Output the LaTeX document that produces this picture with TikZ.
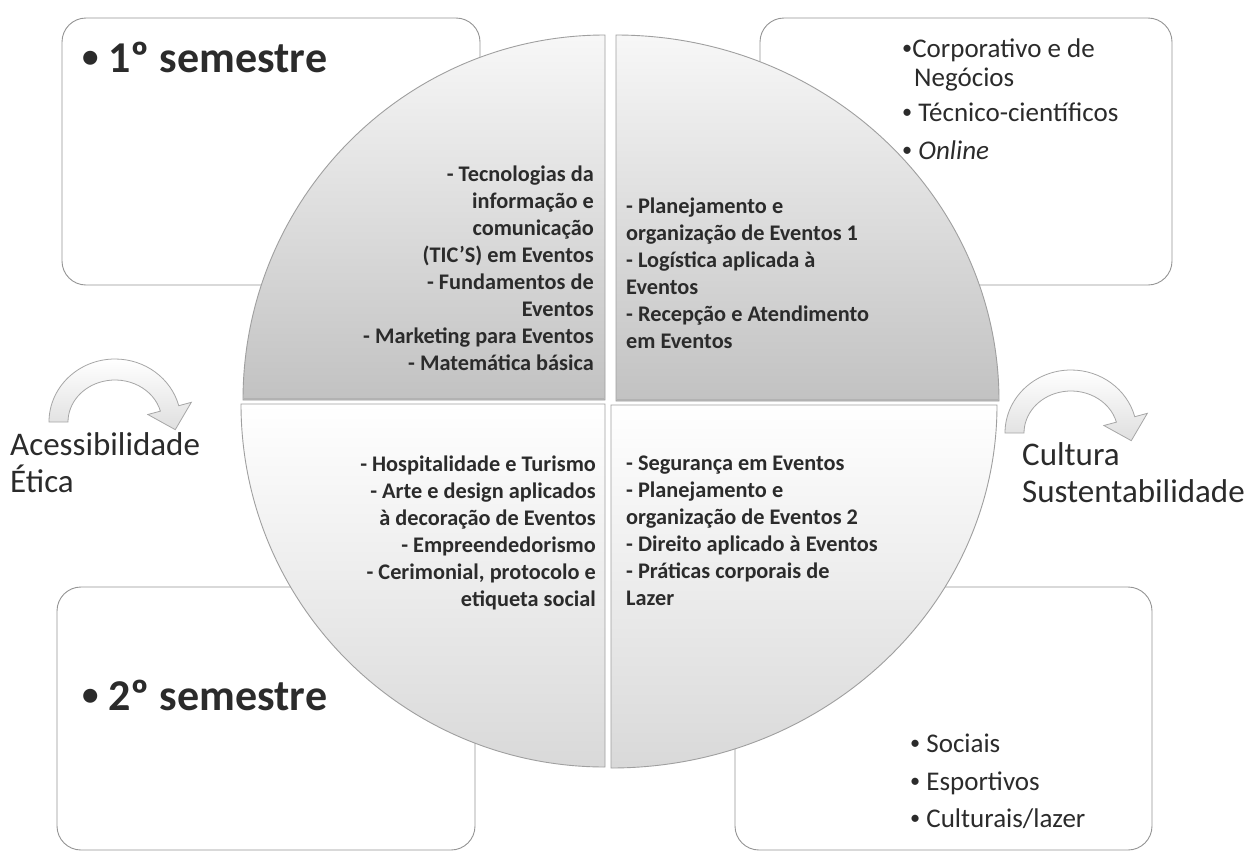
\documentclass[tikz,border=0pt]{standalone}
\usepackage{fontspec}
\setmainfont{Carlito}
\usetikzlibrary{calc}

\definecolor{boxline}{HTML}{959595}
\definecolor{inkgray}{HTML}{2B2B2B}

\tikzset{
	semibox/.style={draw=boxline, line width=0.9pt, fill=white, rounded corners=24pt},
	quarter/.style={draw=gray!75, line width=0.9pt},
	upquarter/.style={quarter, top color=gray!6, bottom color=gray!48},
	lowquarter/.style={quarter, top color=white, bottom color=gray!30},
	bendshape/.style={draw=gray!70, line width=0.8pt, top color=white, bottom color=gray!25},
	subjects/.style={font=\fontsize{22.3}{26.9}\selectfont\bfseries, text=inkgray, inner sep=0pt},
	values/.style={font=\fontsize{33}{37}\selectfont, text=inkgray, inner sep=0pt},
	kinds/.style={font=\fontsize{27}{30}\selectfont, text=inkgray, inner sep=0pt},
	semtitle/.style={font=\fontsize{44}{50}\selectfont\bfseries, text=inkgray, inner sep=0pt}
}

% small list bullet
\def\dotmark{\raisebox{0.1em}{\scalebox{0.75}{\textbullet}}}
% curved block arrow round the centre (#1,#2)
\def\bendarrow(#1,#2){\draw[bendshape] ($(#1,#2)+(180:66 and 63)$) arc[start angle=180, end angle=345, x radius=66, y radius=63] -- ($(#1,#2)+(345:79 and 76)$) -- ($(#1,#2)+(345:56.5 and 52.5)+(75:22)$) -- ($(#1,#2)+(345:34 and 29)$) -- ($(#1,#2)+(345:47 and 42)$) arc[start angle=345, end angle=180, x radius=47, y radius=42] -- cycle;}

\begin{document}
\begin{tikzpicture}[x=1pt, y=-1pt]
	%%%%% FRAME %%%%%
	\useasboundingbox (0,0) rectangle (1247,852);
	\fill[white] (0,0) rectangle (1247,852);
	
	%%%%% BOXES %%%%%
	\draw[semibox] (62,18) rectangle (480,285);
	\draw[semibox] (760,18) rectangle (1172,285);
	\draw[semibox] (57,587) rectangle (475,850);
	\draw[semibox] (735,587) rectangle (1152,850);
	
	%%%%% CIRCLE %%%%%
	\draw[upquarter] (605,400) -- ++(-362,0) arc[start angle=180, end angle=270, x radius=362, y radius=365] -- cycle;
	\draw[upquarter] (616,401) -- ++(0,-366) arc[start angle=270, end angle=360, x radius=383, y radius=366] -- cycle;
	\draw[lowquarter] (605,404) -- ++(-364,0) arc[start angle=180, end angle=90, x radius=364, y radius=363] -- cycle;
	\draw[lowquarter] (611,405) -- ++(386,0) arc[start angle=0, end angle=90, x radius=386, y radius=363] -- cycle;
	\draw[gray!60, line width=1.5pt] (244,399) -- (604,399);
	\draw[gray!60, line width=1.5pt] (617,400) -- (998,400);
	
	%%%%% ARROWS %%%%%
	\bendarrow(115,422)
	\bendarrow(1071,433)
	
	%%%%% TEXTS %%%%%
	\node[semtitle, anchor=base west] (first) at (82,72) {\dotmark\ 1º semestre};
	\node[semtitle, anchor=base west] (second) at (82,710) {\dotmark\ 2º semestre};
	
	\node[subjects, anchor=north east, align=right] (subjTL) at (594,166) {- Tecnologias da\\informação e\\comunicação\\(TIC’S) em Eventos\\- Fundamentos de\\Eventos\\- Marketing para Eventos\\- Matemática básica};
	\node[subjects, anchor=north west, align=left] (subjTR) at (626,198) {- Planejamento e\\organização de Eventos 1\\- Logística aplicada à\\Eventos\\- Recepção e Atendimento\\em Eventos};
	\node[subjects, anchor=north east, align=right] (subjBL) at (596,456) {- Hospitalidade e Turismo\\- Arte e design aplicados\\à decoração de Eventos\\- Empreendedorismo\\- Cerimonial, protocolo e\\etiqueta social};
	\node[subjects, anchor=north west, align=left] (subjBR) at (626,456) {- Segurança em Eventos\\- Planejamento e\\organização de Eventos 2\\- Direito aplicado à Eventos\\- Práticas corporais de\\Lazer};
	
	\node[values, anchor=base west] (access) at (10,455) {Acessibilidade};
	\node[values, anchor=base west] (ethic) at (10,492) {Ética};
	\node[values, anchor=base west] (culture) at (1022,465) {Cultura};
	\node[values, anchor=base west] (sustain) at (1022,502) {Sustentabilidade};
	
	\node[kinds, anchor=base west] (corp) at (902,57) {\dotmark Corporativo e de};
	\node[kinds, anchor=base west] (corpb) at (914,86) {Negócios};
	\node[kinds, anchor=base west] (tech) at (902,121) {\dotmark\ Técnico-científicos};
	\node[kinds, anchor=base west] (online) at (902,159) {\dotmark\ \textit{Online}};
	
	\node[kinds, anchor=base west] (social) at (910,752) {\dotmark\ Sociais};
	\node[kinds, anchor=base west] (sport) at (910,790) {\dotmark\ Esportivos};
	\node[kinds, anchor=base west] (leisure) at (910,827) {\dotmark\ Culturais/lazer};
\end{tikzpicture}
\end{document}
